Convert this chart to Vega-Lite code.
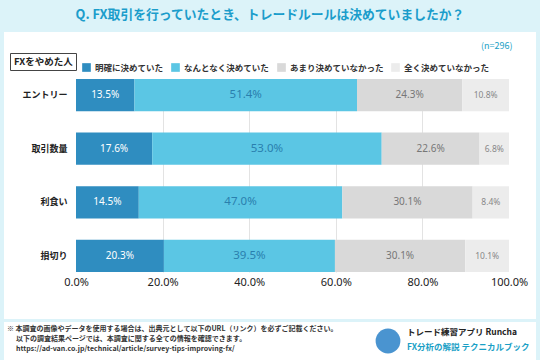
{
  "$schema": "https://vega.github.io/schema/vega-lite/v6.json",
  "padding": {"left": 4, "top": 9, "right": 4, "bottom": 0},
  "background": "#dcf3f9",
  "bounds": "flush",
  "spacing": 3,
  "title": {
    "text": "Q. FX取引を行っていたとき、トレードルールは決めていましたか？",
    "anchor": "middle",
    "frame": "group",
    "fontSize": 12.8,
    "fontWeight": "bold",
    "color": "#1b9dcb",
    "font": "Noto Sans CJK JP",
    "offset": 10
  },
  "config": {"font": "Noto Sans CJK JP"},
  "vconcat": [
    {
      "width": 532,
      "height": 287,
      "view": {"fill": "white", "stroke": null},
      "data": {
        "values": [
          {"cat": "エントリー", "resp": "明確に決めていた", "ord": 1, "value": 0.135},
          {"cat": "エントリー", "resp": "なんとなく決めていた", "ord": 2, "value": 0.514},
          {"cat": "エントリー", "resp": "あまり決めていなかった", "ord": 3, "value": 0.243},
          {"cat": "エントリー", "resp": "全く決めていなかった", "ord": 4, "value": 0.108},
          {"cat": "取引数量", "resp": "明確に決めていた", "ord": 1, "value": 0.176},
          {"cat": "取引数量", "resp": "なんとなく決めていた", "ord": 2, "value": 0.530},
          {"cat": "取引数量", "resp": "あまり決めていなかった", "ord": 3, "value": 0.226},
          {"cat": "取引数量", "resp": "全く決めていなかった", "ord": 4, "value": 0.068},
          {"cat": "利食い", "resp": "明確に決めていた", "ord": 1, "value": 0.145},
          {"cat": "利食い", "resp": "なんとなく決めていた", "ord": 2, "value": 0.470},
          {"cat": "利食い", "resp": "あまり決めていなかった", "ord": 3, "value": 0.301},
          {"cat": "利食い", "resp": "全く決めていなかった", "ord": 4, "value": 0.084},
          {"cat": "損切り", "resp": "明確に決めていた", "ord": 1, "value": 0.203},
          {"cat": "損切り", "resp": "なんとなく決めていた", "ord": 2, "value": 0.395},
          {"cat": "損切り", "resp": "あまり決めていなかった", "ord": 3, "value": 0.301},
          {"cat": "損切り", "resp": "全く決めていなかった", "ord": 4, "value": 0.101}
        ]
      },
      "encoding": {
        "y": {
          "field": "cat",
          "type": "nominal",
          "sort": ["エントリー", "取引数量", "利食い", "損切り"],
          "scale": {"range": [47, 240], "paddingInner": 0.4, "paddingOuter": 0},
          "axis": {
            "title": null,
            "domain": false,
            "ticks": false,
            "grid": false,
            "offset": -63,
            "labelPadding": 0,
            "labelFontSize": 9,
            "labelFontWeight": "bold",
            "labelColor": "#222222"
          }
        },
        "order": {"field": "ord", "type": "quantitative"}
      },
      "layer": [
        {
          "mark": {"type": "bar"},
          "encoding": {
            "x": {
              "field": "value",
              "type": "quantitative",
              "stack": "zero",
              "scale": {"domain": [0, 1], "range": [72, 505]},
              "axis": {
                "orient": "bottom",
                "offset": -47,
                "values": [0, 0.2, 0.4, 0.6, 0.8, 1],
                "format": ".1%",
                "labelFlush": false,
                "labelFontSize": 11,
                "labelFont": "Noto Sans",
                "labelColor": "#222222",
                "labelPadding": 4,
                "domain": false,
                "ticks": false,
                "grid": true,
                "gridColor": {"condition": {"test": "datum.value === 0 || datum.value === 1", "value": "rgba(0,0,0,0)"}, "value": "#e3e3e3"},
                "title": "(n=296)",
                "titleX": 508,
                "titleY": -227,
                "titleAlign": "right",
                "titleBaseline": "middle",
                "titleFontSize": 9,
                "titleFontWeight": "normal",
                "titleColor": "#1a9fc6"
              }
            },
            "color": {
              "field": "resp",
              "type": "nominal",
              "scale": {
                "domain": ["明確に決めていた", "なんとなく決めていた", "あまり決めていなかった", "全く決めていなかった"],
                "range": ["#2f8dc0", "#5bc6e4", "#d9d9d9", "#ececec"]
              },
              "legend": {
                "orient": "none",
                "legendX": 78,
                "legendY": 31,
                "direction": "horizontal",
                "title": null,
                "symbolType": "square",
                "symbolSize": 75,
                "symbolStrokeWidth": 0,
                "labelFontSize": 8.5,
                "labelFontWeight": "bold",
                "labelColor": "#333333",
                "labelOffset": 4,
                "columnPadding": 7
              }
            },
            "strokeDash": {
              "datum": "FXをやめた人",
              "type": "nominal",
              "scale": {"range": [[1, 0]]},
              "legend": {
                "orient": "none",
                "legendX": 6,
                "legendY": 21,
                "title": null,
                "symbolType": "square",
                "symbolSize": 110,
                "symbolStrokeWidth": 0,
                "symbolOpacity": 0,
                "labelOffset": -10,
                "labelFontSize": 9.5,
                "labelFontWeight": "bold",
                "labelColor": "#222222",
                "strokeColor": "#444444",
                "padding": 3
              }
            }
          }
        },
        {
          "mark": {"type": "text", "baseline": "middle", "font": "Noto Sans"},
          "encoding": {
            "x": {"field": "value", "type": "quantitative", "stack": "zero", "bandPosition": 0.5},
            "text": {"field": "value", "type": "quantitative", "format": ".1%"},
            "color": {
              "condition": [
                {"test": "datum.ord === 1", "value": "#ffffff"},
                {"test": "datum.ord === 2", "value": "#2a7fae"},
                {"test": "datum.ord === 3", "value": "#777777"}
              ],
              "value": "#888888"
            },
            "size": {
              "condition": [
                {"test": "datum.ord === 2", "value": 11.5},
                {"test": "datum.ord === 4", "value": 8.5}
              ],
              "value": 10
            }
          }
        }
      ]
    },
    {
      "width": 532,
      "height": 38,
      "view": {"fill": "white", "stroke": null},
      "data": {
        "values": [
          {"block": "note", "part": "head", "line": 1, "text": "※ 本調査の画像やデータを使用する場合は、出典元として以下のURL（リンク）を必ずご記載ください。"},
          {"block": "note", "part": "body", "line": 2, "text": "以下の調査結果ページでは、本調査に関する全ての情報を確認できます。"},
          {"block": "note", "part": "body", "line": 3, "text": "https://ad-van.co.jp/technical/article/survey-tips-improving-fx/"},
          {"block": "brand", "part": "body", "line": 1, "text": "トレード練習アプリ  Runcha"},
          {"block": "brand", "part": "body", "line": 2, "text": "FX分析の解説  テクニカルブック"},
          {"block": "logo", "part": "body", "line": 1, "text": ""}
        ]
      },
      "resolve": {"scale": {"x": "independent", "y": "independent"}},
      "layer": [
        {
          "transform": [{"filter": "datum.block === 'note'"}],
          "mark": {"type": "text", "align": "left", "baseline": "middle", "fontSize": 7, "fontWeight": "bold", "color": "#333333"},
          "encoding": {
            "x": {"field": "part", "type": "nominal", "scale": {"domain": ["head", "body"], "range": [3, 12], "padding": 0}, "axis": null},
            "y": {"field": "line", "type": "ordinal", "scale": {"range": [7, 27], "padding": 0}, "axis": null},
            "text": {"field": "text"}
          }
        },
        {
          "transform": [{"filter": "datum.block === 'logo'"}],
          "mark": {"type": "point", "shape": "circle", "filled": true, "size": 615, "color": "#4a94d0", "opacity": 1},
          "encoding": {
            "x": {"field": "block", "type": "nominal", "scale": {"range": [384, 384]}, "axis": null}
          }
        },
        {
          "transform": [{"filter": "datum.block === 'brand'"}],
          "mark": {"type": "text", "align": "left", "baseline": "middle", "fontSize": 8.5, "fontWeight": "bold"},
          "encoding": {
            "x": {"field": "block", "type": "nominal", "scale": {"range": [403, 403]}, "axis": null},
            "y": {"field": "line", "type": "ordinal", "scale": {"range": [10, 25], "padding": 0}, "axis": null},
            "text": {"field": "text"},
            "color": {"condition": {"test": "datum.line === 2", "value": "#1a9fc6"}, "value": "#222222"}
          }
        }
      ]
    }
  ]
}
